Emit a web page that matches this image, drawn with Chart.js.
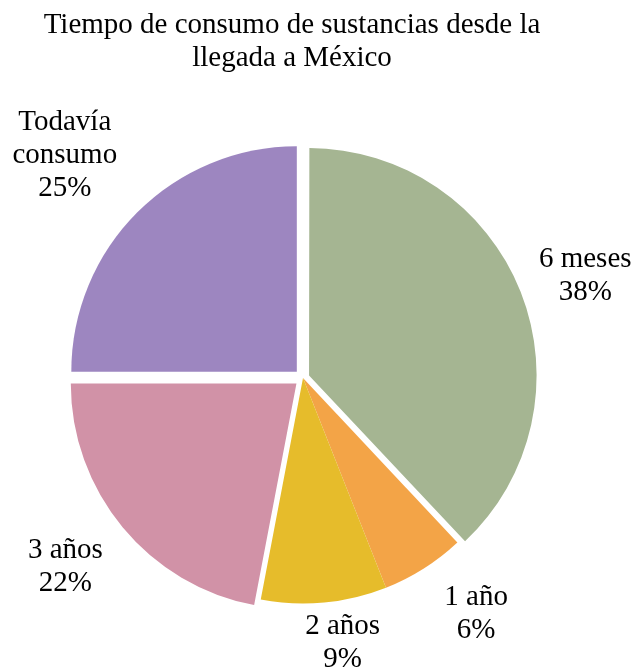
<!DOCTYPE html>
<html>
<head>
<meta charset="utf-8">
<title>Tiempo de consumo de sustancias</title>
<script src="https://cdn.jsdelivr.net/npm/chart.js@4.4.0/dist/chart.umd.min.js"></script>
<style>
    body { margin: 0; background: #ffffff; }
    #chartBox { width: 636px; height: 668px; }
</style>
</head>
<body>
<div id="chartBox"><canvas id="consumoChart" width="636" height="668"></canvas></div>
<script>
let categorias = ['6 meses', '1 año', '2 años', '3 años', 'Todavía consumo'];
let porcentajes = [38, 6, 9, 22, 25];
let tituloLineas = ['Tiempo de consumo de sustancias desde la', 'llegada a México'];

let colores = ['#A5B592', '#F3A447', '#E6BC2B', '#D192A7', '#9D86C0'];
let separacion = [26, 0, 0, 34, 35]; // pulled-out slices
let distanciaEtiqueta = [22, 33, 8, 33, 42];
let giroEtiqueta = [0.6, -4.2, -3, 0.9, -1.5];

const fuente = '"Liberation Serif", "Times New Roman", serif';
const altoLinea = 33;

// wrap a label into lines no wider than anchoMax
function partirTexto(ctx, texto, anchoMax) {
    let palabras = texto.split(' ');
    let lineas = [];
    let actual = '';
    palabras.forEach(function (p) {
        let prueba = actual ? actual + ' ' + p : p;
        if (actual && ctx.measureText(prueba).width > anchoMax) {
            lineas.push(actual);
            actual = p;
        } else {
            actual = prueba;
        }
    });
    lineas.push(actual);
    return lineas;
}

const tituloPlugin = {
    id: 'tituloSerif',
    afterDraw(chart) {
        let ctx = chart.ctx;
        ctx.save();
        ctx.font = '29px ' + fuente;
        ctx.fillStyle = '#000000';
        ctx.textAlign = 'center';
        ctx.textBaseline = 'alphabetic';
        tituloLineas.forEach(function (t, i) {
            ctx.fillText(t, 292, 33 + i * altoLinea);
        });
        ctx.restore();
    }
};

const etiquetasPlugin = {
    id: 'etiquetasPastel',
    afterDatasetsDraw(chart) {
        let ctx = chart.ctx;
        let meta = chart.getDatasetMeta(0);
        ctx.save();
        ctx.font = '29px ' + fuente;
        ctx.fillStyle = '#000000';
        ctx.textAlign = 'center';
        ctx.textBaseline = 'alphabetic';
        meta.data.forEach(function (arc, i) {
            let p = arc.getProps(['x', 'y', 'startAngle', 'endAngle', 'outerRadius'], true);
            let medio = (p.startAngle + p.endAngle) / 2;
            // same shift the arc element applies to an offset slice
            let fix = 1 - Math.sin(Math.min(Math.PI, p.endAngle - p.startAngle));
            let desplazado = (arc.options.offset || 0) / 4 * (1 + fix);
            let cx = p.x + Math.cos(medio) * desplazado;
            let cy = p.y + Math.sin(medio) * desplazado;

            let ang = medio + giroEtiqueta[i] * Math.PI / 180;
            let lineas = partirTexto(ctx, categorias[i], 110).concat([porcentajes[i] + '%']);
            let ancho = Math.max(...lineas.map(l => ctx.measureText(l).width));
            let alto = lineas.length * altoLinea;
            let r = p.outerRadius + distanciaEtiqueta[i];
            let bx = cx + Math.cos(ang) * r + Math.cos(ang) * ancho / 2;
            let by = cy + Math.sin(ang) * r + Math.sin(ang) * alto / 2;

            lineas.forEach(function (l, k) {
                ctx.fillText(l, bx, by + (k - (lineas.length - 1) / 2) * altoLinea + 9);
            });
        });
        ctx.restore();
    }
};

new Chart('consumoChart', {
    type: 'pie',
    data: {
        labels: categorias,
        datasets: [{
            data: porcentajes,
            backgroundColor: colores,
            borderWidth: 0,
            offset: separacion,
            hoverOffset: 0
        }]
    },
    options: {
        responsive: false,
        animation: false,
        layout: {
            padding: { left: 60, right: 90, top: 135, bottom: 47 }
        },
        plugins: {
            legend: { display: false },
            tooltip: { enabled: false },
            title: { display: false }
        }
    },
    plugins: [tituloPlugin, etiquetasPlugin]
});
</script>
</body>
</html>
